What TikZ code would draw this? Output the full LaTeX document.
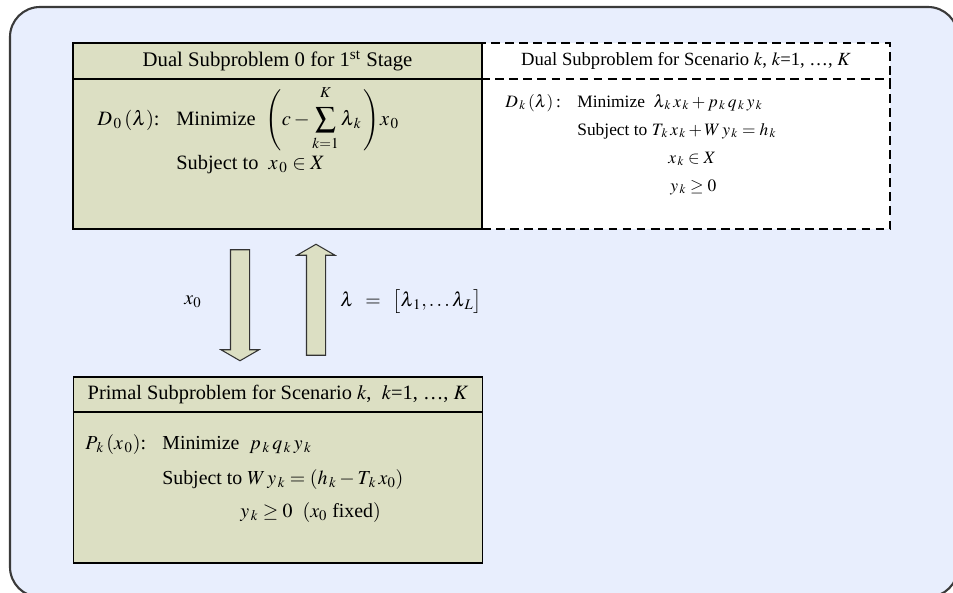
\documentclass[tikz,border=0pt]{standalone}
\usepackage{amsmath,amssymb}
\usepackage{mathptmx}
\usepackage{fontspec}
\setmainfont{Liberation Serif}
\definecolor{PanelOlive}{HTML}{DCDFC3}
\definecolor{FrameBlue}{HTML}{E8EEFD}
\definecolor{FrameEdge}{HTML}{3A3A3A}
\usetikzlibrary{positioning,shapes.arrows,calc}

\begin{document}
\begin{tikzpicture}[x=0.02cm, y=-0.02cm,
    every node/.style={font=\fontsize{11.3}{13}\selectfont, inner sep=0pt},
    panel/.style={draw=black, line width=0.9pt, fill=PanelOlive,
      minimum width=8.18cm, minimum height=3.72cm},
    dashpanel/.style={draw=black, line width=0.9pt, dash pattern=on 5pt off 3pt,
      fill=white, minimum width=8.16cm, minimum height=3.72cm},
    fatarrow/.style={single arrow, draw=black!80, fill=PanelOlive, line width=0.6pt,
      minimum height=2.22cm, inner xsep=0pt, inner ysep=0.18cm,
      single arrow head extend=0.19cm, single arrow tip angle=120},
    line/.style={anchor=base west},
    bigline/.style={line, font=\fontsize{11.6}{13}\selectfont},
    smallline/.style={line, font=\fontsize{9.9}{12}\selectfont}]
  \useasboundingbox (0,0) rectangle (953,592);
  % outer frame
  \draw[FrameEdge, line width=1.2pt, fill=FrameBlue, rounded corners=0.6cm] (10,7) rectangle (958,597);

  % scenario dual (dashed) and first stage dual
  \node[dashpanel] (dualk) at (686,136) {};
  \draw[line width=0.9pt, dash pattern=on 5pt off 3pt] ($(dualk.north west)+(0,37)$) -- ($(dualk.north east)+(0,37)$);
  \node[panel] (dualzero) at (277.5,136) {};
  \draw[line width=0.9pt] ($(dualzero.north west)+(0,37)$) -- ($(dualzero.north east)+(0,37)$);
  \node[font=\fontsize{11.8}{13}\selectfont] (dualzerohead) at ($(dualzero.north)+(0,18.5)$) {Dual Subproblem 0 for 1\textsuperscript{st} Stage};
  \node[font=\fontsize{10.6}{12}\selectfont] (dualkhead) at ($(dualk.north)+(0,18.5)$) {Dual Subproblem for Scenario $k$, $k$=1, \ldots, $K$};

  \node[bigline] (dzname) at (97,125) {$D_{\,0}\,(\lambda)$:};
  \node[bigline] (dzobj) at (176,125) {Minimize\ \ $\displaystyle\Biggl(c-\sum_{\raisebox{-2pt}{$\scriptstyle k=1$}}^{\raisebox{3pt}{$\scriptstyle K$}}\lambda_{\,k}\,\Biggr)x_{\,0}$};
  \node[bigline] (dzcon) at (176,169) {Subject to\ \ $x_{\,0}\in X$};

  \node[smallline] (dkname) at (505,107) {$D_{\,k}\,(\lambda)$\,:};
  \node[smallline] (dkobj) at (577,107) {Minimize\ \ $\lambda_{\,k}\,x_{\,k}+p_{\,k}\,q_{\,k}\,y_{\,k}$};
  \node[smallline] (dkcon) at (577,135) {Subject to $T_{\,k}\,x_{\,k}+W\,y_{\,k}=h_{\,k}$};
  \node[smallline] (dkset) at (668,163) {$x_{\,k}\in X$};
  \node[smallline] (dksign) at (670,191) {$y_{\,k}\geq 0$};

  % exchange between stages
  \node[fatarrow, rotate=-90] (passdown) at (240,302.5) {};
  \node[fatarrow, rotate=90] (passup) at (316,302.5) {};
  \node (xlabel) at (193,302) {$x_0$};
  \node[anchor=west] (lambdalabel) at (340,302) {$\lambda\ \,=\ \,\bigl[\lambda_{\,1},\ldots\lambda_{\,L}\bigr]$};

  % primal subproblem
  \node[panel] (primal) at (278,470) {};
  \draw[line width=0.9pt] ($(primal.north west)+(0,36)$) -- ($(primal.north east)+(0,36)$);
  \node[font=\fontsize{11.6}{13}\selectfont] (primalhead) at ($(primal.north)+(0,18)$) {Primal Subproblem for Scenario $k$,\ \ $k$=1, \ldots, $K$};
  \node[line] (pkname) at (85,449) {$P_{\,k}\,(x_{\,0})$:};
  \node[line] (pkobj) at (162,449) {Minimize\ \ $p_{\,k}\,q_{\,k}\,y_{\,k}$};
  \node[line] (pkcon) at (162,484) {Subject to $W\,y_{\,k}=\left(h_{\,k}-T_{\,k}\,x_0\right)$};
  \node[line] (pksign) at (240,517) {$y_{\,k}\geq 0$\ \ $(x_0$ fixed$)$};
\end{tikzpicture}
\end{document}
